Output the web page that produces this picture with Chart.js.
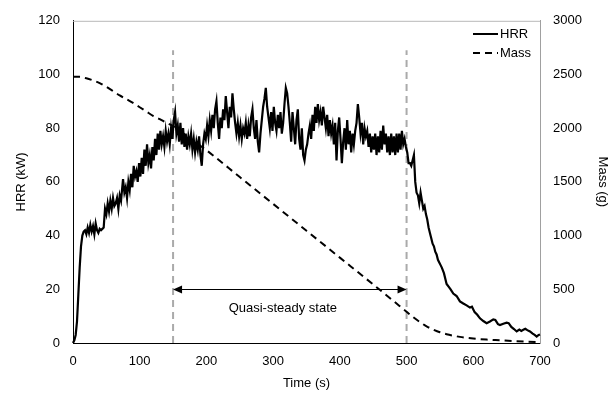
<!DOCTYPE html>
<html>
<head>
<meta charset="utf-8">
<script src="https://cdn.jsdelivr.net/npm/chart.js@4"></script>
<style>
  body { margin: 0; background: #fff; }
  canvas { display: block; }
</style>
</head>
<body>
<canvas id="chart" width="612" height="403"></canvas>
<script>
// Heat release rate (kW) vs time (s)
const hrrTime = [
  0, 2, 4, 6, 8, 10, 12, 14, 16, 18, 20, 22, 24, 26, 28, 30, 32, 34, 36, 38, 40, 42, 44, 46,
  48, 50, 52, 54, 56, 58, 60, 62, 64, 66, 68, 70, 72, 75, 77, 79, 81, 83, 85, 87, 89, 91, 93, 95,
  97, 99, 101, 103, 105, 107, 109, 111, 113, 115, 117, 119, 121, 123, 125, 127, 129, 131, 133, 135,
  137, 139, 141, 143, 145, 147, 149, 151, 153, 155, 157, 159, 161, 163, 165, 167, 169, 171, 173, 175,
  177, 179, 181, 183, 185, 187, 189, 191, 193, 195, 197, 199, 201, 203, 205, 207, 209, 211, 213, 215,
  217, 219, 221, 223, 225, 227, 229, 231, 233, 235, 237, 239, 241, 243, 245, 247, 249, 251, 253, 255,
  257, 259, 261, 263, 265, 267, 269, 271, 273, 275, 277, 279, 281, 283, 285, 287, 289, 291, 293, 295,
  297, 299, 301, 303, 305, 307, 309, 311, 313, 315, 317, 319, 321, 323, 325, 327, 329, 331, 333, 335,
  337, 339, 341, 343, 345, 347, 349, 351, 353, 355, 357, 359, 361, 363, 365, 367, 369, 371, 373, 375,
  377, 379, 381, 383, 385, 387, 389, 391, 393, 395, 397, 399, 401, 403, 405, 407, 409, 411, 413, 415,
  417, 419, 421, 423, 425, 427, 429, 431, 433, 435, 437, 439, 441, 443, 445, 447, 449, 451, 453, 455,
  457, 459, 461, 463, 465, 467, 469, 471, 473, 475, 477, 479, 481, 483, 485, 487, 489, 491, 493, 495,
  497, 499, 501, 503, 505, 507, 509, 511, 513, 515, 517, 519, 521, 523, 525, 527, 529, 531, 533, 535,
  537, 539, 541, 543, 545, 547, 549, 551, 553, 556, 560, 563, 566, 570, 575, 580, 585, 590, 595, 598,
  602, 606, 610, 615, 620, 625, 630, 633, 637, 640, 645, 650, 653, 657, 661, 665, 669, 672, 675, 678,
  681, 685, 689, 692, 695, 698, 700
];
const hrr = [
  0, 1, 3, 8, 18, 28, 36, 40, 41.5, 42, 40.5, 43, 41, 44, 41.5, 43.5, 40.5, 44.5, 42, 41, 42.5, 42, 42.5, 43,
  50, 48, 52, 49, 53, 50, 54, 51, 52, 54, 50, 55, 53, 61, 56, 58, 54, 60, 57, 63, 58, 66, 62, 64,
  60, 67, 62, 69, 63, 72, 66, 74, 67, 70, 65, 73, 68, 76, 70, 78, 72, 79, 74, 77,
  73, 79, 75, 78, 74, 80, 76, 83, 86, 78, 81, 75, 82, 74, 80, 73, 78, 72, 77, 74,
  78, 72, 76, 71, 75, 72, 77, 70, 66, 74, 78, 76, 81, 77, 83, 79, 85, 80, 87, 90,
  82, 76, 84, 80, 87, 83, 92, 86, 80, 88, 84, 93, 87, 82, 78, 82, 77, 81, 76, 80,
  78, 82, 76, 81, 77, 84, 87, 80, 76, 83, 75, 71, 78, 83, 88, 91, 95, 88, 84, 80,
  86, 79, 88, 82, 79, 85, 80, 86, 78, 82, 89, 95, 93, 88, 82, 75, 86, 80, 74, 83,
  87, 76, 72, 80, 70, 68, 72, 74, 78, 81, 76, 85, 79, 88, 82, 89, 83, 86, 81, 88,
  84, 80, 85, 77, 83, 78, 81, 74, 82, 68, 79, 84, 76, 67, 75, 80, 72, 83, 74, 79,
  71, 78, 74, 79, 82, 89, 84, 78, 82, 74, 80, 77, 79, 73, 78, 71, 77, 72, 78, 70,
  77, 71, 79, 72, 81, 74, 78, 71, 77, 70, 78, 71, 77, 70, 78, 71, 78, 72, 79, 74,
  76, 73, 71, 67, 67, 66, 68, 70, 60, 56, 55, 52, 56, 53, 50, 51, 48, 46, 43, 41,
  39, 37, 36, 34, 33, 31, 30, 29, 28, 26, 22, 21, 20, 18.4, 17.5, 15.5, 14.7, 14, 13.2, 13.5,
  11.5, 10.5, 9.2, 8.2, 7.4, 8, 8.8, 8.6, 7, 6.7, 7.2, 7.6, 7.4, 6, 5.2, 4.3, 5, 4.5, 4.9, 5.3,
  4.8, 4.3, 3.5, 3, 2.4, 3, 3.2
];

// Sample mass (g) vs time (s)
const massTime = [
  0, 10, 20, 30, 40, 50, 60, 70, 80, 90, 100, 110, 120, 130, 140, 150, 160, 170, 180, 190, 200,
  250, 300, 350, 400, 450, 500, 510, 520, 530, 540, 550, 560, 570, 580, 600, 620, 640, 660, 680, 700
];
const mass = [
  2480, 2478, 2465, 2445, 2420, 2385, 2345, 2305, 2270, 2235, 2195, 2155, 2115, 2085, 2050, 2020, 1975, 1930, 1885, 1840, 1795,
  1545, 1295, 1045, 795, 545, 291, 240, 195, 155, 125, 100, 82, 68, 57, 42, 32, 25, 18, 12, 8
];

// Quasi-steady state window
const steadyStart = 150;
const steadyEnd = 500;
const markerTop = 109;
const arrowLevel = 20;
const steadyLabel = 'Quasi-steady state';

const FONT = "'Liberation Sans', Arial, sans-serif";

const hrrPoints = hrrTime.map((t, i) => ({ x: t, y: hrr[i] }));
const massPoints = massTime.map((t, i) => ({ x: t, y: mass[i] }));

// Draws the plot frame, the double arrow with its label and the legend
const annotations = {
  id: 'annotations',
  beforeDatasetsDraw(chart) {
    const { ctx, chartArea: a } = chart;
    ctx.save();
    ctx.strokeStyle = '#b8b8b8';
    ctx.lineWidth = 1;
    ctx.beginPath();
    ctx.moveTo(a.left, a.top + 0.5);
    ctx.lineTo(a.right, a.top + 0.5);
    ctx.stroke();
    ctx.restore();
  },
  afterDatasetsDraw(chart) {
    const { ctx, scales } = chart;
    const x1 = scales.x.getPixelForValue(steadyStart);
    const x2 = scales.x.getPixelForValue(steadyEnd);
    const y = Math.round(scales.y.getPixelForValue(arrowLevel)) + 0.5;

    ctx.save();
    ctx.strokeStyle = '#000';
    ctx.fillStyle = '#000';
    ctx.lineWidth = 1;
    ctx.beginPath();
    ctx.moveTo(x1 + 8, y);
    ctx.lineTo(x2 - 8, y);
    ctx.stroke();
    // arrow heads
    ctx.beginPath();
    ctx.moveTo(x1, y);
    ctx.lineTo(x1 + 9, y - 4);
    ctx.lineTo(x1 + 9, y + 4);
    ctx.closePath();
    ctx.fill();
    ctx.beginPath();
    ctx.moveTo(x2, y);
    ctx.lineTo(x2 - 9, y - 4);
    ctx.lineTo(x2 - 9, y + 4);
    ctx.closePath();
    ctx.fill();

    ctx.font = '13px ' + FONT;
    ctx.textAlign = 'center';
    ctx.textBaseline = 'middle';
    ctx.fillText(steadyLabel, (x1 + x2) / 2 - 7, y + 19);

    // legend
    const lx = 473, lw = 25;
    ctx.lineWidth = 2;
    ctx.beginPath();
    ctx.moveTo(lx, 34);
    ctx.lineTo(lx + lw, 34);
    ctx.stroke();
    ctx.setLineDash([7, 5]);
    ctx.beginPath();
    ctx.moveTo(lx, 53);
    ctx.lineTo(lx + lw, 53);
    ctx.stroke();
    ctx.setLineDash([]);
    ctx.font = '13px ' + FONT;
    ctx.textAlign = 'left';
    ctx.fillText('HRR', lx + lw + 2, 34);
    ctx.fillText('Mass', lx + lw + 2, 53);
    ctx.restore();
  }
};

new Chart(document.getElementById('chart'), {
  type: 'line',
  data: {
    datasets: [
      {
        label: 'start',
        data: [{ x: steadyStart, y: 0 }, { x: steadyStart, y: markerTop }],
        borderColor: '#aaaaaa',
        borderWidth: 2,
        borderDash: [7, 5],
        pointRadius: 0,
        yAxisID: 'y',
        order: 3
      },
      {
        label: 'end',
        data: [{ x: steadyEnd, y: 0 }, { x: steadyEnd, y: markerTop }],
        borderColor: '#aaaaaa',
        borderWidth: 2,
        borderDash: [7, 5],
        pointRadius: 0,
        yAxisID: 'y',
        order: 3
      },
      {
        label: 'Mass',
        data: massPoints,
        borderColor: '#000',
        borderWidth: 2,
        borderDash: [7, 5],
        pointRadius: 0,
        tension: 0.4,
        cubicInterpolationMode: 'monotone',
        yAxisID: 'y2',
        order: 2
      },
      {
        label: 'HRR',
        data: hrrPoints,
        borderColor: '#000',
        borderWidth: 2.2,
        pointRadius: 0,
        tension: 0,
        yAxisID: 'y',
        order: 1
      }
    ]
  },
  options: {
    responsive: false,
    animation: false,
    clip: false,
    layout: { padding: { top: 17, left: 0, right: 0, bottom: 0 } },
    plugins: {
      legend: { display: false },
      tooltip: { enabled: false }
    },
    scales: {
      x: {
        type: 'linear',
        min: 0,
        max: 700,
        afterFit: s => { s.height = 60; },
        grid: { display: false, drawTicks: false },
        border: { color: '#000', width: 1 },
        ticks: { stepSize: 100, padding: 11, color: '#000', font: { family: FONT, size: 13 } },
        title: { display: true, text: 'Time (s)', color: '#000', padding: { top: 0, bottom: 12 }, font: { family: FONT, size: 13 } }
      },
      y: {
        position: 'left',
        min: 0,
        max: 120,
        afterFit: s => { s.width = 73; },
        grid: { display: false, drawTicks: false },
        border: { color: '#000', width: 1 },
        ticks: { stepSize: 20, padding: 13, color: '#000', font: { family: FONT, size: 13 } },
        title: { display: true, text: 'HRR (kW)', color: '#000', padding: { top: 14, bottom: 0 }, font: { family: FONT, size: 13 } }
      },
      y2: {
        position: 'right',
        min: 0,
        max: 3000,
        afterFit: s => { s.width = 72; },
        grid: { display: false, drawOnChartArea: false, tickLength: 4, color: '#999' },
        border: { color: '#a0a0a0', width: 1 },
        ticks: {
          stepSize: 500,
          padding: 9,
          color: '#000',
          font: { family: FONT, size: 13 },
          callback: v => String(v)
        },
        title: { display: true, text: 'Mass (g)', color: '#000', padding: { top: 2, bottom: 0 }, font: { family: FONT, size: 13 } }
      }
    }
  },
  plugins: [annotations]
});
</script>
</body>
</html>
